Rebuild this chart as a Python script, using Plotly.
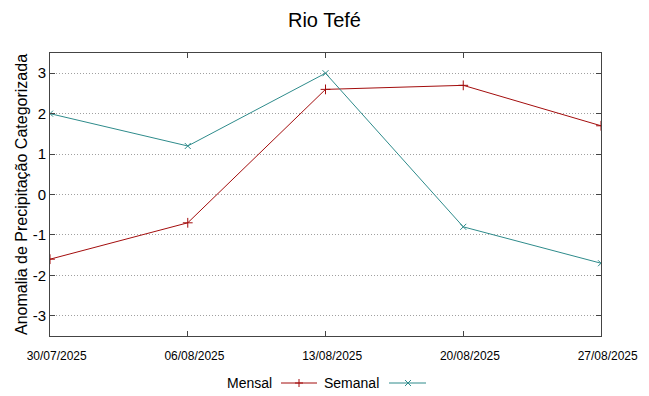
import plotly.graph_objects as go

dates = ["30/07/2025", "06/08/2025", "13/08/2025", "20/08/2025", "27/08/2025"]
mensal = [-1.6, -0.7, 2.6, 2.7, 1.7]
semanal = [2.0, 1.2, 3.0, -0.8, -1.7]
yticks = [-3, -2, -1, 0, 1, 2, 3]
ytick_labels = ["-3", "-2", "-1", "0", "1", "2", "3"]

W, H = 649, 396
ML, MR, MT, MB = 50, 48, 53, 60
PW, PH = W - ML - MR, H - MT - MB

C_MEN = "#a30d0d"
C_SEM = "#2e8b8b"
FRAME = "#444444"

def px(x):
    return (x - ML) / PW

def py(y):
    return (H - MB - y) / PH

fig = go.Figure()
fig.add_trace(go.Scatter(x=dates, y=mensal, mode="lines+markers", name="Mensal",
                         line=dict(color=C_MEN, width=1),
                         marker=dict(symbol="cross-thin", size=7, line=dict(color=C_MEN, width=1))))
fig.add_trace(go.Scatter(x=dates, y=semanal, mode="lines+markers", name="Semanal",
                         line=dict(color=C_SEM, width=1),
                         marker=dict(symbol="x-thin", size=6, line=dict(color=C_SEM, width=1))))

font_fam = "Liberation Sans, Arial, sans-serif"
fig.update_layout(
    width=W, height=H,
    margin=dict(l=ML, r=MR, t=MT, b=MB, autoexpand=False),
    paper_bgcolor="white", plot_bgcolor="white",
    showlegend=False,
    title=dict(text="Rio Tefé", x=0.5, xanchor="center", y=1 - 20 / H, yanchor="middle",
               font=dict(family=font_fam, size=20, color="black"), automargin=False),
    font=dict(family=font_fam, color="black"),
)
pad = "\u00a0" * 4
fig.update_xaxes(type="category", range=[0, len(dates) - 1], showgrid=False, automargin=False,
                 tickvals=dates, ticktext=[pad + d for d in dates],
                 showline=True, linecolor=FRAME, linewidth=1, mirror="ticks",
                 ticks="inside", ticklen=5, tickcolor=FRAME, ticklabelstandoff=9,
                 tickfont=dict(size=12, color="black"),
                 zeroline=False)
fig.update_yaxes(range=[-3.5, 3.5], tickvals=yticks, ticktext=ytick_labels, automargin=False,
                 showgrid=True, gridcolor="#a0a0a0", griddash="1px,2px", gridwidth=1,
                 showline=True, linecolor=FRAME, linewidth=1, mirror="ticks",
                 ticks="inside", ticklen=5, tickcolor=FRAME,
                 tickfont=dict(size=15, color="black"), zeroline=False,
                 title=dict(text="Anomalia de Precipitação Categorizada", font=dict(size=16, color="black"),
                            standoff=1))

# manual legend (text left of sample, gnuplot style)
ly = 383
fig.add_annotation(xref="paper", yref="paper", x=px(274), y=py(ly), text="Mensal", showarrow=False,
                   xanchor="right", yanchor="middle", font=dict(size=14, color="black"))
fig.add_shape(type="line", xref="paper", yref="paper", x0=px(281), x1=px(317), y0=py(ly), y1=py(ly),
              line=dict(color=C_MEN, width=1))
fig.add_shape(type="line", xref="paper", yref="paper", x0=px(295), x1=px(303), y0=py(ly), y1=py(ly),
              line=dict(color=C_MEN, width=1))
fig.add_shape(type="line", xref="paper", yref="paper", x0=px(299), x1=px(299), y0=py(ly - 4), y1=py(ly + 4),
              line=dict(color=C_MEN, width=1))
fig.add_annotation(xref="paper", yref="paper", x=px(381), y=py(ly), text="Semanal", showarrow=False,
                   xanchor="right", yanchor="middle", font=dict(size=14, color="black"))
fig.add_shape(type="line", xref="paper", yref="paper", x0=px(389), x1=px(426), y0=py(ly), y1=py(ly),
              line=dict(color=C_SEM, width=1))
fig.add_shape(type="line", xref="paper", yref="paper", x0=px(405), x1=px(411), y0=py(ly - 3), y1=py(ly + 3),
              line=dict(color=C_SEM, width=1))
fig.add_shape(type="line", xref="paper", yref="paper", x0=px(405), x1=px(411), y0=py(ly + 3), y1=py(ly - 3),
              line=dict(color=C_SEM, width=1))

fig.write_html("out.html", config={"displayModeBar": False},
               post_script="document.body.style.margin='0px';")
